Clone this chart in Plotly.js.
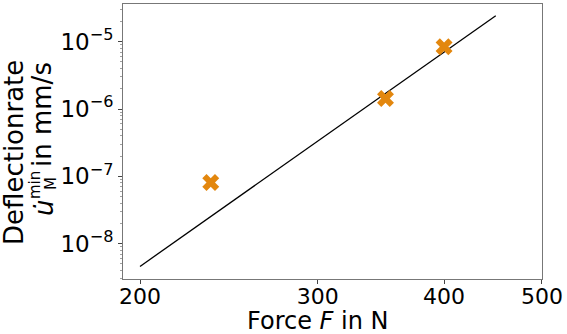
<!DOCTYPE html>
<html><head><meta charset="utf-8">
<script src="https://cdn.plot.ly/plotly-3.0.1.min.js"></script>
<style>body{margin:0;padding:0;background:#fff}#chart{width:567px;height:334px}</style>
</head><body><div id="chart"></div>
<script>
// data
const fitForce = [200, 450];
const fitRate = [4.6e-9, 2.43e-5];
const measForce = [235, 350, 400];
const measRate = [8.1e-8, 1.43e-6, 8.4e-6];
const xTickVals = [200, 300, 400, 500];
const xTickText = ['200', '300', '400', '500'];
const yTickVals = [1e-8, 1e-7, 1e-6, 1e-5];
const yTickText = ['10<sup>\u22128</sup>', '10<sup>\u22127</sup>', '10<sup>\u22126</sup>', '10<sup>\u22125</sup>'];
const yMinorMult = [2, 3, 4, 5, 6, 7, 8, 9];
const yMinorDecades = [-9, -8, -7, -6, -5];

const yMinorVals = [];
yMinorDecades.forEach(d => yMinorMult.forEach(k => yMinorVals.push(k * Math.pow(10, d))));

const FONT = 'DejaVu Sans, sans-serif';
const traces = [
  {x: fitForce, y: fitRate, type: 'scatter', mode: 'lines',
   line: {color: '#000', width: 1.3}, showlegend: false, hoverinfo: 'skip'},
  {x: measForce, y: measRate, type: 'scatter', mode: 'markers',
   marker: {symbol: 'x', size: 15, color: '#e3870e', line: {width: 0}}, showlegend: false},
  {x: measForce, y: measRate, yaxis: 'y2', type: 'scatter', mode: 'markers',
   marker: {size: 1, opacity: 0}, showlegend: false, hoverinfo: 'skip'}
];
const L = 123, R = 542, T = 4, B = 279;
const px = v => (v - L) / (R - L);
const py = v => (B - v) / (B - T);
const yRange = [-8.524, -4.441];
const ann = (x, y, text, size, angle) => ({xref: 'paper', yref: 'paper', x: px(x), y: py(y), text: text,
  textangle: angle, showarrow: false, font: {size: size, family: FONT, color: '#000'},
  xanchor: 'center', yanchor: 'middle', borderpad: 0});
const layout = {
  width: 567, height: 334,
  margin: {l: L, r: 567 - R, t: T, b: 334 - B},
  paper_bgcolor: '#fff', plot_bgcolor: '#fff',
  font: {family: FONT, color: '#000', size: 22},
  xaxis: {type: 'log', range: [2.2842, 2.699], tickvals: xTickVals, ticktext: xTickText,
    showgrid: false, zeroline: false, showline: true, mirror: true, linecolor: '#777', linewidth: 1,
    ticks: 'outside', ticklen: 4, tickcolor: '#444', ticklabelstandoff: -6, tickfont: {size: 22, family: FONT}},
  yaxis: {type: 'log', range: yRange, tickvals: yTickVals, ticktext: yTickText,
    showgrid: false, zeroline: false, showline: true, mirror: true, linecolor: '#777', linewidth: 1,
    ticks: 'outside', ticklen: 4, tickcolor: '#444', tickfont: {size: 23, family: FONT}},
  yaxis2: {type: 'log', range: yRange, overlaying: 'y', side: 'left', tickvals: yMinorVals,
    showticklabels: false, showgrid: false, zeroline: false, showline: false,
    ticks: 'outside', ticklen: 2, tickcolor: '#888', tickwidth: 0.8},
  annotations: [
    ann(317, 321, 'Force <i>F</i> in N', 24, 0),
    ann(14, 153, 'Deflectionrate', 26, -90),
    ann(42, 115, 'in mm/s', 26, -90),
    ann(44, 208, '<i>u\u0307</i>', 26, -90),
    ann(35, 185, 'min', 15, -90),
    ann(51, 184, 'M', 15, -90)
  ]
};
Plotly.newPlot('chart', traces, layout, {displayModeBar: false, staticPlot: true});
</script></body></html>
